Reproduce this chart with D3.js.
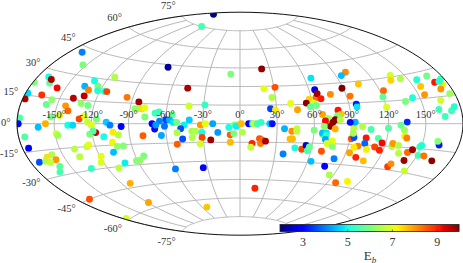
<!DOCTYPE html>
<html>
<head>
<meta charset="utf-8">
<script src="https://cdn.jsdelivr.net/npm/d3@7"></script>
<style>
  body { margin: 0; background: #fff; }
  text { font-family: "Liberation Serif", serif; fill: #333; }
</style>
</head>
<body>
<div id="container"></div>
<script>
let w = 463;
let h = 263;

//longitude of each source, degrees
let lon = [
  -162,-95,-169,-153,-73,-9,-171,-179,-166,-167,-115,-130,-124,-135,
  -157,-130,-122,-116,-114,-46,-178,-166,-131,-139,-95,-178,-156,-84,
  -131,-125,-159,-143,-29,-42,-86,-83,-80,-78,-140,-66,-69,-55,
  -153,-146,-77,-116,-130,-126,-123,-41,-178,-179,-157,-163,-139,-135,
  -120,-108,-105,-96,-71,-69,-60,-65,-57,-54,-61,-68,-45,-51,
  -48,-32,-28,-22,-9,-18,-175,-149,-148,-175,-122,-117,-119,-111,
  -103,-99,-79,-64,-51,-47,-39,-36,-39,-31,-31,-24,-8,-5,
  -8,-33,-52,-138,-127,-125,-105,-102,-97,-107,-83,-91,-88,-102,
  -110,-119,-122,-134,-137,-159,-173,-164,-158,-167,-164,-159,-163,-60,
  -34,-112,-169,-119,-53,-177,
  22,101,95,66,105,138,135,144,157,168,170,175,177,174,
  171,156,155,123,120,137,144,166,176,21,31,27,65,64,
  66,68,58,55,61,58,63,77,89,93,96,96,25,29,
  42,47,80,120,162,172,175,166,135,130,133,120,106,99,
  92,93,89,67,82,71,79,72,69,77,75,73,81,77,
  68,60,67,67,70,70,70,72,77,76,-4,-2,-3,1,
  7,10,11,13,14,17,24,26,2,36,42,46,46,41,
  43,10,9,16,17,18,21,37,46,52,55,57,58,69,
  63,77,82,86,98,108,17,93,100,108,98,95,91,93,
  92,103,103,106,112,113,117,117,132,133,142,134,149,126,
  126,131,141,144,134,136,151,149,150,156,165,164,162
];

//latitude of each source, degrees
let lat = [
  83,75,42,36,43,40,26,22,23,25,32,28,25,24,
  21,22,22,22,22,28,16,16,18,16,19,13,14,16,
  13,12,11,11,15,14,11,11,11,12,8,9,8,7,
  4,5,5,3,3,5,1,3,3,0,0,-2,-1,-1,
  -1,1,-1,-2,0,-4,3,2,3,1,-2,-1,-1,1,
  -4,-1,0,0,-3,-7,-7,-6,-7,-13,-7,-6,-5,-9,
  -6,-8,-9,-9,-7,-12,-6,-6,-11,-7,-11,-13,-9,-8,
  -15,-16,-16,-16,-15,-14,-13,-16,-16,-20,-24,-27,-27,-28,
  -31,-22,-26,-29,-21,-18,-21,-19,-21,-21,-22,-25,-28,-35,
  -35,-42,-45,-56,-66,-59,
  44,37,35,35,28,31,28,28,26,27,23,21,24,23,
  19,22,17,22,18,14,16,13,16,28,29,21,26,20,
  23,19,19,16,16,13,14,22,26,20,14,12,12,11,
  16,11,10,11,8,7,9,4,1,-1,-4,-3,-4,-2,
  -3,1,1,7,7,4,6,3,2,3,1,-2,3,-4,
  -2,-5,-8,-7,-7,-9,-12,-15,-17,-13,-1,-1,-2,0,
  0,0,0,0,0,1,0,0,-7,-4,-6,-4,-6,-12,
  -12,-16,-19,-12,-16,-13,-14,-24,-19,-20,-17,-21,-18,-21,
  -29,-32,-26,-38,-43,-41,-52,-21,-24,-26,-16,-17,-11,-10,
  -7,-10,-14,-18,-16,-10,-13,-18,-28,-26,-23,-19,-29,-15,
  -13,-14,-18,-16,-8,-9,-19,-14,-13,-19,-21,-12,-10
];

//E_b of each source
let eb = [
  2.1,5.5,4.0,6.0,2.2,6.0,5.0,6.0,5.7,9.7,6.5,5.0,6.0,4.4,
  9.2,8.2,5.2,5.2,8.7,9.7,4.7,8.9,9.6,9.6,8.3,9.7,6.2,9.8,
  6.2,5.9,5.8,8.0,5.3,6.8,6.2,6.3,7.4,7.0,8.4,5.3,5.4,5.8,
  5.9,6.9,6.0,6.0,8.7,7.0,6.7,4.6,5.6,3.0,7.8,4.5,5.0,4.7,
  6.9,4.6,4.0,3.0,2.9,3.0,3.5,4.0,4.4,4.8,3.9,4.2,4.9,5.9,
  3.6,8.0,7.0,4.3,5.0,4.2,5.6,7.0,6.3,3.0,6.0,9.5,5.6,5.0,
  7.3,6.6,8.5,4.3,6.5,3.6,6.4,6.5,6.5,5.0,8.7,9.8,8.5,6.0,
  7.7,6.8,8.5,6.6,6.6,7.0,7.2,6.2,6.1,4.5,6.0,6.1,6.2,4.9,
  6.6,7.0,6.9,5.3,6.6,6.5,3.6,7.4,8.0,6.5,6.7,5.7,5.5,4.0,
  3.0,7.8,8.6,7.9,7.6,6.8,
  9.9,8.1,4.5,4.8,7.6,6.8,7.5,6.5,5.1,5.9,9.1,7.0,5.4,5.1,
  8.0,7.6,8.0,8.4,5.7,6.0,5.1,6.8,6.3,7.0,8.6,6.5,2.8,8.4,
  9.8,9.1,7.5,9.9,6.8,5.8,5.9,8.1,10,8.3,3.2,4.8,3.5,7.3,
  7.0,7.9,9.1,6.9,5.4,5.4,5.2,5.4,3.3,5.8,6.3,5.6,5.5,6.5,
  6.6,4.4,3.1,7.9,7.6,6.5,6.0,6.3,9.2,9.9,9.9,9.9,6.5,7.8,
  6.2,6.0,5.8,4.5,4.8,5.2,4.3,6.9,6.1,7.0,5.8,6.2,4.9,7.7,
  3.0,4.8,6.6,6.9,5.4,5.3,4.6,3.1,6.5,4.4,8.1,6.7,6.6,7.7,
  7.7,9.0,6.7,8.6,8.2,8.4,9.7,4.0,5.0,8.7,2.5,5.5,5.8,8.6,
  4.5,3.0,4.0,6.5,8.4,7.2,9.0,7.9,9.0,7.7,8.2,7.3,8.6,3.6,
  6.4,9.1,3.8,7.3,8.7,5.6,9.2,9.0,8.8,8.1,9.8,6.6,6.7,6.5,
  8.0,6.5,8.4,9.8,7.2,8.2,5.5,5.4,5.1,8.3,9.9,3.2,6.1
];

let lonTicks = [-150, -120, -90, -60, -30, 0, 30, 60, 90, 120, 150];
let latTicks = [-75, -60, -45, -30, -15, 0, 15, 30, 45, 60, 75];
let ebTicks = [3, 5, 7, 9];

//aitoff, d3 only ships it in the extra projection module
function aitoffRaw(lambda, phi) {
  let a = Math.acos(Math.cos(phi) * Math.cos(lambda / 2));
  let s = a ? a / Math.sin(a) : 1;
  return [2 * Math.cos(phi) * Math.sin(lambda / 2) * s, Math.sin(phi) * s];
}

let projection = d3.geoProjection(aitoffRaw)
  .scale(223 / Math.PI)
  .translate([240, 123.7])
  .precision(0.1);
let path = d3.geoPath(projection);

//matplotlib's jet, channel by channel
let red = d3.scaleLinear().domain([0, 0.35, 0.66, 0.89, 1]).range([0, 0, 1, 1, 0.5]).clamp(true);
let green = d3.scaleLinear().domain([0, 0.125, 0.375, 0.64, 0.91, 1]).range([0, 0, 1, 1, 0, 0]).clamp(true);
let blue = d3.scaleLinear().domain([0, 0.11, 0.34, 0.65, 1]).range([0.5, 1, 1, 0, 0]).clamp(true);
let norm = d3.scaleLinear().domain([2, 10]).range([0, 1]);

function jet(value) {
  let t = norm(value);
  return d3.rgb(red(t) * 255, green(t) * 255, blue(t) * 255).formatHex();
}

let viz = d3.select('#container')
  .append('svg')
    .attr('width', w)
    .attr('height', h)
    .style('display', 'block');

viz.append('clipPath')
    .attr('id', 'globe')
  .append('path')
    .attr('d', path({ type: 'Sphere' }));

//grid stops at 75 degrees like the original
let graticule = d3.geoGraticule()
  .extent([[-180, -75], [180, 75.001]])
  .step([30, 15]);

viz.append('path')
  .datum(graticule())
  .attr('d', path)
  .attr('fill', 'none')
  .attr('stroke', '#b8b8b8')
  .attr('stroke-width', 1);

//one dot per source
viz.append('g')
    .attr('clip-path', 'url(#globe)')
  .selectAll('circle')
  .data(eb)
  .enter()
  .append('circle')
    .attr('cx', (d, i) => projection([lon[i], lat[i]])[0])
    .attr('cy', (d, i) => projection([lon[i], lat[i]])[1])
    .attr('r', 3.45)
    .attr('fill', d => jet(d));

//outline
viz.append('path')
  .attr('d', path({ type: 'Sphere' }))
  .attr('fill', 'none')
  .attr('stroke', '#111')
  .attr('stroke-width', 1);

//longitude labels, just above the equator
viz.append('g').selectAll('text')
  .data(lonTicks)
  .enter()
  .append('text')
    .attr('x', d => projection([d, 0])[0])
    .attr('y', d => projection([d, 0])[1] - 5.8)
    .attr('text-anchor', 'middle')
    .attr('font-size', 10.5)
    .text(d => d + '°');

//latitude labels, to the left of the outline
viz.append('g').selectAll('text')
  .data(latTicks)
  .enter()
  .append('text')
    .attr('x', d => projection([-180, d])[0] - 6.5)
    .attr('y', d => projection([-180, d])[1] + 3.5 + Math.max(-1 - 0.15 * d, -11))
    .attr('text-anchor', 'end')
    .attr('font-size', 10.5)
    .text(d => d + '°');

//colour bar
let bar = d3.scaleLinear().domain([2, 10]).range([280, 459]);
let barTop = 224.5;
let barHeight = 7;

viz.append('g').selectAll('rect')
  .data(d3.range(2, 10, 8 / 179))
  .enter()
  .append('rect')
    .attr('x', d => bar(d))
    .attr('y', barTop)
    .attr('width', 1.2)
    .attr('height', barHeight)
    .attr('fill', d => jet(d));

viz.append('rect')
  .attr('x', 280)
  .attr('y', barTop)
  .attr('width', 179)
  .attr('height', barHeight)
  .attr('fill', 'none')
  .attr('stroke', '#222')
  .attr('stroke-width', 0.8);

let barAxis = viz.append('g')
  .attr('transform', 'translate(0,' + (barTop + barHeight) + ')')
  .call(d3.axisBottom(bar).tickValues(ebTicks).tickSize(-2).tickPadding(6).tickFormat(d => d));
barAxis.select('.domain').remove();
barAxis.selectAll('line').attr('stroke', '#222').attr('stroke-width', 0.6);
barAxis.selectAll('text')
  .attr('font-size', 12)
  .style('font-family', '"Liberation Serif", serif');

let label = viz.append('text')
  .attr('x', 370)
  .attr('y', 260)
  .attr('text-anchor', 'middle')
  .attr('font-size', 13)
  .text('E');
label.append('tspan')
  .attr('dy', 2.5)
  .attr('font-size', 9)
  .attr('font-style', 'italic')
  .text('b');
</script>
</body>
</html>
